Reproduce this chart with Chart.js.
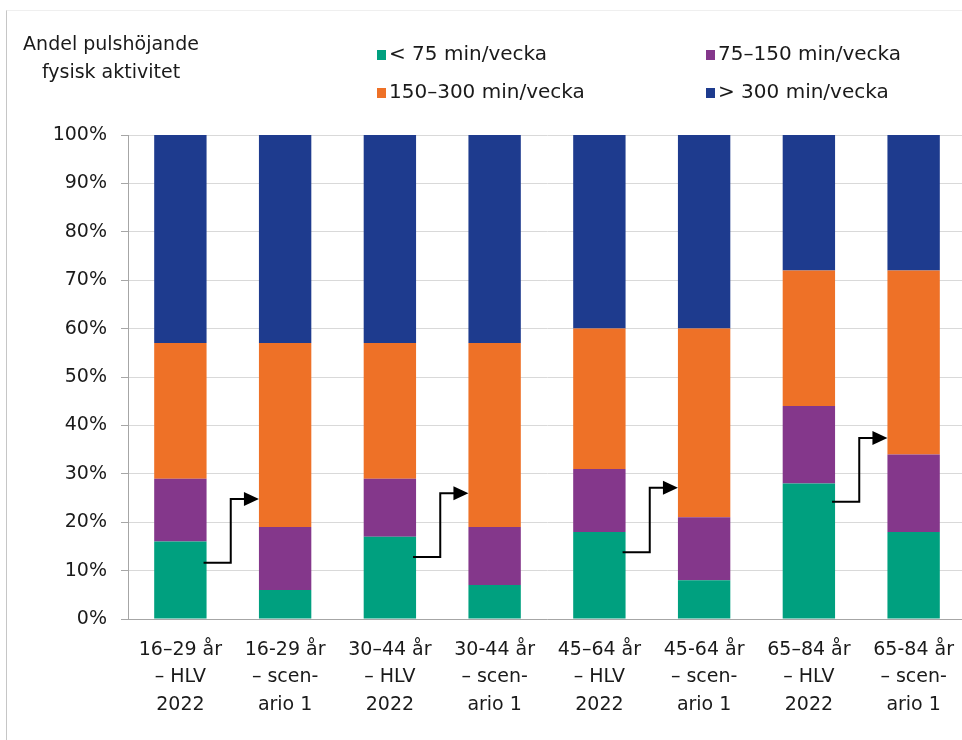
<!DOCTYPE html>
<html>
<head>
<meta charset="utf-8">
<script src="https://cdn.jsdelivr.net/npm/chart.js@4/dist/chart.umd.min.js"></script>
<style>
  html, body { margin: 0; padding: 0; background: #ffffff; overflow: hidden; }
  #wrap { position: relative; width: 962px; height: 740px; overflow: hidden; }
  #frame { position: absolute; left: 6px; top: 10px; width: 1000px; height: 800px;
           border-left: 1px solid #c6c6c6; border-top: 1px solid #efefef; }
  canvas { position: absolute; left: 0; top: 0; }
</style>
</head>
<body>
<div id="wrap">
  <div id="frame"></div>
  <canvas id="chart" width="972" height="740"></canvas>
</div>
<script>
// Age groups: measured level (HLV 2022) next to scenario 1
const categories = [
  ['16–29 år', '– HLV', '2022'],
  ['16-29 år', '– scen-', 'ario 1'],
  ['30–44 år', '– HLV', '2022'],
  ['30-44 år', '– scen-', 'ario 1'],
  ['45–64 år', '– HLV', '2022'],
  ['45-64 år', '– scen-', 'ario 1'],
  ['65–84 år', '– HLV', '2022'],
  ['65-84 år', '– scen-', 'ario 1']
];

// Share (%) of each activity level
const under75 = [16, 6, 17, 7, 18, 8, 28, 18];
const from75to150 = [13, 13, 12, 12, 13, 13, 16, 16];
const from150to300 = [28, 38, 28, 38, 29, 39, 28, 38];
const over300 = [43, 43, 43, 43, 40, 40, 28, 28];

const seriesNames = ['< 75 min/vecka', '75–150 min/vecka', '150–300 min/vecka', '> 300 min/vecka'];
const seriesColors = ['#00A07F', '#84378B', '#EE7127', '#1E3B8E'];

const yTickValues = [0, 10, 20, 30, 40, 50, 60, 70, 80, 90, 100];

// Step arrows from each HLV bar to its scenario bar (levels in %)
const arrowStart = [11.6, 12.8, 13.8, 24.2];
const arrowEnd = [24.8, 26.0, 27.1, 37.4];

const titleLines = ['Andel pulshöjande', 'fysisk aktivitet'];

const FONT = '"DejaVu Sans", Verdana, sans-serif';
const TEXT = '#1a1a1a';

const headerPlugin = {
  id: 'header',
  afterDraw(chart) {
    const ctx = chart.ctx;
    ctx.save();
    ctx.font = '19px ' + FONT;
    ctx.fillStyle = TEXT;
    ctx.textBaseline = 'middle';
    ctx.textAlign = 'center';
    ctx.fillText(titleLines[0], 111, 45);
    ctx.fillText(titleLines[1], 111, 73);

    // two-column legend
    ctx.font = '20px ' + FONT;
    const cols = [377, 706];
    const rows = [55, 93];
    ctx.textAlign = 'left';
    chart.data.datasets.forEach((ds, i) => {
      const cx = cols[i % 2];
      const cy = rows[Math.floor(i / 2)];
      ctx.fillStyle = ds.backgroundColor;
      ctx.fillRect(cx, cy - 5, 9, 10);
      ctx.fillStyle = TEXT;
      ctx.fillText(ds.label, cx + 12, cy);
    });
    ctx.restore();
  }
};

const arrowPlugin = {
  id: 'stepArrows',
  afterDatasetsDraw(chart) {
    const ctx = chart.ctx;
    const y = chart.scales.y;
    const meta = chart.getDatasetMeta(0);
    ctx.save();
    ctx.strokeStyle = '#000';
    ctx.fillStyle = '#000';
    ctx.lineWidth = 2;
    ctx.lineJoin = 'miter';
    arrowStart.forEach((s, i) => {
      const a = meta.data[2 * i];
      const b = meta.data[2 * i + 1];
      const x0 = a.x + a.width / 2 - 3;
      const xm = (a.x + b.x) / 2 - 2;
      const x1 = b.x - b.width / 2;
      const y0 = y.getPixelForValue(s);
      const y1 = y.getPixelForValue(arrowEnd[i]);
      const head = 15;
      ctx.beginPath();
      ctx.moveTo(x0, y0);
      ctx.lineTo(xm, y0);
      ctx.lineTo(xm, y1);
      ctx.lineTo(x1 - head + 1, y1);
      ctx.stroke();
      ctx.beginPath();
      ctx.moveTo(x1, y1);
      ctx.lineTo(x1 - head, y1 - 7);
      ctx.lineTo(x1 - head, y1 + 7);
      ctx.closePath();
      ctx.fill();
    });
    ctx.restore();
  }
};

const seriesData = [under75, from75to150, from150to300, over300];

new Chart(document.getElementById('chart'), {
  type: 'bar',
  data: {
    labels: categories,
    datasets: seriesData.map((d, i) => ({
      label: seriesNames[i],
      data: d,
      backgroundColor: seriesColors[i],
      borderWidth: 0
    }))
  },
  options: {
    responsive: false,
    animation: false,
    layout: { padding: { top: 135, right: 6, left: 0, bottom: 0 } },
    datasets: { bar: { barPercentage: 0.5, categoryPercentage: 1 } },
    plugins: { legend: { display: false }, tooltip: { enabled: false } },
    scales: {
      x: {
        stacked: true,
        grid: { display: false, drawTicks: false },
        border: { display: true, color: '#a6a6a6', width: 1 },
        ticks: {
          font: { family: FONT, size: 19, lineHeight: 1.45 },
          color: TEXT,
          padding: 17,
          maxRotation: 0,
          autoSkip: false
        },
        afterFit(scale) { scale.height = 121; }
      },
      y: {
        stacked: true,
        min: 0,
        max: 100,
        afterBuildTicks(scale) { scale.ticks = yTickValues.map(v => ({ value: v })); },
        grid: { color: '#d9d9d9', tickColor: '#a6a6a6', tickLength: 7, lineWidth: 1 },
        border: { display: true, color: '#a6a6a6', width: 1 },
        ticks: {
          font: { family: FONT, size: 19 },
          color: TEXT,
          padding: 14,
          callback: v => v + '%'
        },
        afterFit(scale) { scale.width = 128; }
      }
    }
  },
  plugins: [arrowPlugin, headerPlugin]
});
</script>
</body>
</html>
